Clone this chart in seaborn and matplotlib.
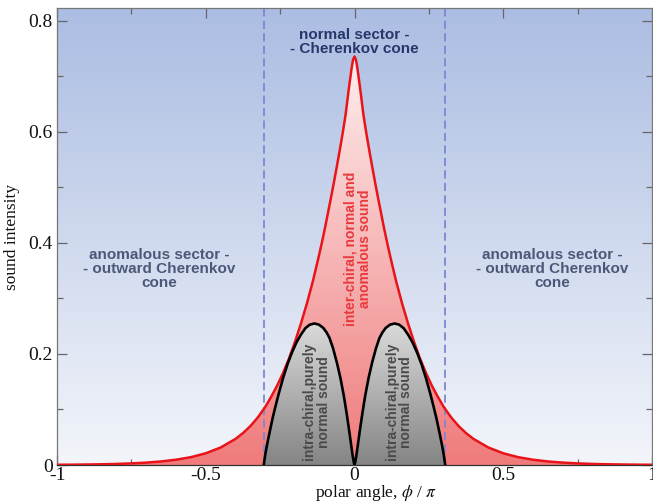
import numpy as np
import pandas as pd
import matplotlib
matplotlib.use("Agg")
import matplotlib.pyplot as plt
import matplotlib.colors as mcolors
from matplotlib.patches import Polygon
from matplotlib.ticker import MultipleLocator, FixedLocator, FixedFormatter
import seaborn as sns

# ---------------- data ----------------
red_x = [-1.0, -0.95, -0.9, -0.85, -0.8, -0.75, -0.7, -0.65, -0.6, -0.55, -0.5,
         -0.45, -0.4, -0.375, -0.35, -0.325, -0.3, -0.28, -0.26, -0.24, -0.22,
         -0.2, -0.18, -0.16, -0.14, -0.12, -0.11, -0.1, -0.09, -0.08, -0.07,
         -0.06, -0.05, -0.04, -0.03, -0.02, -0.01, -0.005, 0.0,
         0.005, 0.01, 0.02, 0.03, 0.04, 0.05, 0.06, 0.07, 0.08, 0.09, 0.1, 0.11,
         0.12, 0.14, 0.16, 0.18, 0.2, 0.22, 0.24, 0.26, 0.28, 0.3, 0.325, 0.35,
         0.375, 0.4, 0.45, 0.5, 0.55, 0.6, 0.65, 0.7, 0.75, 0.8, 0.85, 0.9,
         0.95, 1.0]
red_y = [0.0004, 0.0006, 0.0009, 0.0013, 0.0019, 0.0029, 0.0043, 0.0064, 0.0095,
         0.0141, 0.0211, 0.0315, 0.0470, 0.0574, 0.0701, 0.0857, 0.1046, 0.123,
         0.143, 0.166, 0.192, 0.222, 0.255, 0.291, 0.331, 0.376, 0.400, 0.425,
         0.452, 0.479, 0.507, 0.536, 0.566, 0.597, 0.631, 0.674, 0.714, 0.730,
         0.736,
         0.730, 0.714, 0.674, 0.631, 0.597, 0.566, 0.536, 0.507, 0.479, 0.452,
         0.425, 0.400, 0.376, 0.331, 0.291, 0.255, 0.222, 0.192, 0.166, 0.143,
         0.123, 0.1046, 0.0857, 0.0701, 0.0574, 0.0470, 0.0315, 0.0211, 0.0141,
         0.0095, 0.0064, 0.0043, 0.0029, 0.0019, 0.0013, 0.0009, 0.0006, 0.0004]

black_x = [-0.305, -0.3, -0.295, -0.285, -0.275, -0.265, -0.255, -0.24, -0.225,
           -0.21, -0.195, -0.18, -0.165, -0.15, -0.135, -0.12, -0.105, -0.094,
           -0.084, -0.072, -0.059, -0.047, -0.036, -0.027, -0.019, -0.012,
           -0.006, -0.002, 0.0,
           0.002, 0.006, 0.012, 0.019, 0.027, 0.036, 0.047, 0.059, 0.072, 0.084,
           0.094, 0.105, 0.12, 0.135, 0.15, 0.165, 0.18, 0.195, 0.21, 0.225,
           0.24, 0.255, 0.265, 0.275, 0.285, 0.295, 0.3, 0.305]
black_y = [0.0, 0.0186, 0.0337, 0.060, 0.085, 0.107, 0.128, 0.157, 0.182, 0.203,
           0.221, 0.235, 0.2466, 0.2529, 0.255, 0.253, 0.247, 0.239, 0.229,
           0.210, 0.184, 0.156, 0.125, 0.095, 0.066, 0.039, 0.016, 0.004, 0.0,
           0.004, 0.016, 0.039, 0.066, 0.095, 0.125, 0.156, 0.184, 0.210, 0.229,
           0.239, 0.247, 0.253, 0.255, 0.2529, 0.2466, 0.235, 0.221, 0.203,
           0.182, 0.157, 0.128, 0.107, 0.085, 0.060, 0.0337, 0.0186, 0.0]

sector_bounds = [-0.305, 0.305]
x_ticks = [-1, -0.5, 0, 0.5, 1]
x_tick_labels = ["-1", "-0.5", "0", "0.5", "1"]
y_ticks = [0, 0.2, 0.4, 0.6, 0.8]
y_tick_labels = ["0", "0.2", "0.4", "0.6", "0.8"]

red_df = pd.DataFrame({"angle": red_x, "intensity": red_y})
black_df = pd.DataFrame({"angle": black_x, "intensity": black_y})

# ---------------- style ----------------
sns.set_theme(style="ticks")
plt.rcParams["font.family"] = ["Liberation Serif", "DejaVu Serif"]
plt.rcParams["mathtext.fontset"] = "stix"
plt.rcParams["axes.unicode_minus"] = False

fig = plt.figure(figsize=(6.53, 5.03), dpi=100)
ax = fig.add_axes([57 / 653, 38 / 503, (652 - 57) / 653, (465 - 8) / 503])
XMIN, XMAX, YMIN, YMAX = -1.0, 1.0, 0.0, 0.8234


def vgrad(extent, c_bottom, c_top, clip=None, zorder=0, n=256):
    t = np.linspace(0, 1, n)[:, None]
    cb = np.array(mcolors.to_rgb(c_bottom))
    ct = np.array(mcolors.to_rgb(c_top))
    img = (cb + (ct - cb) * t)[:, None, :]
    im = ax.imshow(img, extent=extent, origin="lower", aspect="auto",
                   zorder=zorder, interpolation="bilinear")
    if clip is not None:
        im.set_clip_path(clip)
    return im


# background gradient
vgrad([XMIN, XMAX, YMIN, YMAX], "#f3f5fa", "#abbde2", zorder=0)

# red filled region with gradient
red_poly = Polygon(list(zip(red_x, red_y)) + [(red_x[-1], 0), (red_x[0], 0)],
                   closed=True, facecolor="none", edgecolor="none",
                   transform=ax.transData)
ax.add_patch(red_poly)
vgrad([XMIN, XMAX, 0, max(red_y)], "#f07b7b", "#fdeeee", clip=red_poly, zorder=1)

# dashed sector boundaries
for b in sector_bounds:
    ax.axvline(b, color="#7d86d2", lw=1.3, ls=(0, (4.5, 2.4)), zorder=1.5)

# gray filled region with gradient
gray_poly = Polygon(list(zip(black_x, black_y)) + [(black_x[-1], 0), (black_x[0], 0)],
                    closed=True, facecolor="none", edgecolor="none",
                    transform=ax.transData)
ax.add_patch(gray_poly)
vgrad([-0.31, 0.31, 0, max(black_y)], "#858585", "#dadada", clip=gray_poly, zorder=2)

# curves
sns.lineplot(data=red_df, x="angle", y="intensity", color="#e8141a", lw=1.8,
             estimator=None, ax=ax, zorder=3)
sns.lineplot(data=black_df, x="angle", y="intensity", color="black", lw=1.9,
             estimator=None, ax=ax, zorder=4)

ax.set_xlim(XMIN, XMAX)
ax.set_ylim(YMIN, YMAX)

# ticks
ax.xaxis.set_major_locator(FixedLocator(x_ticks))
ax.xaxis.set_major_formatter(FixedFormatter(x_tick_labels))
ax.yaxis.set_major_locator(FixedLocator(y_ticks))
ax.yaxis.set_major_formatter(FixedFormatter(y_tick_labels))
ax.xaxis.set_minor_locator(MultipleLocator(0.25))
ax.yaxis.set_minor_locator(MultipleLocator(0.1))
ax.tick_params(which="both", direction="in", top=True, right=True,
               color="#666666", width=0.9)
ax.tick_params(which="major", length=7, labelsize=14, pad=3, labelcolor="#111111")
ax.tick_params(axis="x", which="major", pad=1.5)
ax.tick_params(which="minor", length=4)
for s in ax.spines.values():
    s.set_color("#777777")
    s.set_linewidth(0.9)
ax.spines["bottom"].set_color("#333333")

ax.set_xlabel(r"polar angle, $\phi$ / $\pi$", fontsize=12.5, color="#111111")
ax.xaxis.set_label_coords(0.536, -0.039)
ax.set_ylabel("sound intensity", fontsize=12.5, color="#111111")
ax.yaxis.set_label_coords(-0.062, 0.5)

# annotations
sans = ["Liberation Sans", "DejaVu Sans"]
ax.text(0.0, 0.763, "normal sector -\n- Cherenkov cone", ha="center", va="center",
        fontsize=11, fontweight="bold", color="#27366b", family=sans,
        linespacing=1.0, zorder=6)
for xc in (-0.657, 0.664):
    ax.text(xc, 0.353, "anomalous sector -\n- outward Cherenkov\ncone",
            ha="center", va="center", fontsize=11, fontweight="bold",
            color="#4b5878", family=sans, linespacing=1.0, zorder=6)
ax.text(0.01, 0.39, "inter-chiral, normal and\nanomalous sound", rotation=90,
        ha="center", va="center", fontsize=10, fontweight="bold",
        color="#e8393d", family=sans, linespacing=1.05, zorder=6)
for xc in (-0.128, 0.15):
    ax.text(xc, 0.114, "intra-chiral,purely\nnormal sound", rotation=90,
            ha="center", va="center", fontsize=10, fontweight="bold",
            color="#4a4a4a", family=sans, linespacing=1.05, zorder=6)

fig.savefig("out.png", dpi=100)
